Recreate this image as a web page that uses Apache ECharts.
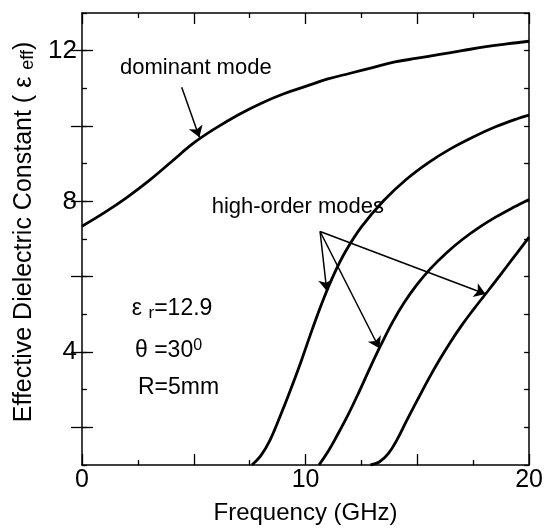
<!DOCTYPE html>
<html>
<head>
<meta charset="utf-8">
<script src="https://cdn.jsdelivr.net/npm/echarts@6/dist/echarts.min.js"></script>
<style>html,body{margin:0;padding:0;background:#fff}#c{width:546px;height:530px}</style>
</head>
<body>
<div id="c"></div>
<script>
// Frequency (GHz) and effective dielectric constant
const dominantF = [0,1,2,3,4,5,6,7,8,9,10,11,12,13,14,15,16,17,18,19,20];
const dominantV = [7.34,7.7,8.1,8.55,9.05,9.55,9.95,10.3,10.6,10.85,11.05,11.25,11.4,11.55,11.7,11.8,11.9,12.0,12.1,12.18,12.25];
const mode1F = [7.6,8.0,8.4,8.84,9.3,9.8,10.3,10.8,11.3,11.8,12.5,13.5,14.5,15.5,16.5,17.5,18.5,19.5,20];
const mode1V = [1.0,1.25,1.65,2.26,2.95,3.75,4.6,5.4,6.1,6.68,7.32,8.02,8.58,9.03,9.4,9.71,9.98,10.2,10.29];
const mode2F = [10.6,11.0,11.4,11.9,12.4,12.9,13.4,13.9,14.4,15.0,15.6,16.3,17.0,17.8,18.5,19.3,20];
const mode2V = [1.0,1.35,1.77,2.33,2.95,3.6,4.22,4.8,5.3,5.8,6.22,6.63,6.98,7.32,7.58,7.84,8.05];
const mode3F = [12.9,13.3,13.7,14.1,14.5,15,15.5,16,16.5,17,17.5,18,18.5,19,19.5,20];
const mode3V = [1.0,1.08,1.3,1.68,2.15,2.72,3.28,3.8,4.28,4.72,5.12,5.5,5.88,6.27,6.66,7.05];
const xLabels = [0,10,20];
const yLabels = [4,8,12];
const yMajorTicks = [2,4,6,8,10,12];

const FONT = "'Liberation Sans', Arial, Helvetica, sans-serif";
const zip = (a,b) => a.map((v,i)=>[v,b[i]]);
const chart = echarts.init(document.getElementById('c'));

const xBase = (pos, showLabel) => ({
  type:'value', position:pos, min:0, max:20, interval:5,
  axisLine:{show:true, onZero:false, lineStyle:{color:'#000', width:1.5}},
  axisTick:{show:true, inside:true, length:11, lineStyle:{color:'#000', width:1.3}},
  minorTick:{show:true, splitNumber:2, length:5, lineStyle:{color:'#000', width:1.3}},
  splitLine:{show:false},
  axisLabel:{show:showLabel, margin:3, color:'#000', fontFamily:FONT, fontSize:25,
    formatter:(v)=> xLabels.includes(v) ? String(v) : ''},
});
const yShort = (pos) => ({
  type:'value', position:pos, min:1, max:13, interval:1,
  axisLine:{show:true, onZero:false, lineStyle:{color:'#000', width:1.5}},
  axisTick:{show:true, inside:true, length:5, lineStyle:{color:'#000', width:1.3}},
  splitLine:{show:false}, axisLabel:{show:false}
});
const yLong = (pos, showLabel) => ({
  type:'value', position:pos, min:1, max:13,
  axisLine:{show:false},
  axisTick:{show:true, inside:true, length:11, customValues:yMajorTicks, lineStyle:{color:'#000', width:1.3}},
  splitLine:{show:false},
  axisLabel:{show:showLabel, customValues:yLabels, margin:5, color:'#000', fontFamily:FONT, fontSize:26}
});

const xa = [xBase('bottom', true), xBase('top', false)];
xa[0].name = 'Frequency (GHz)';
xa[0].nameLocation = 'middle';
xa[0].nameGap = 36;
xa[0].nameTextStyle = {color:'#000', fontFamily:FONT, fontSize:24};

const ya = [yShort('left'), yLong('left', true), yShort('right'), yLong('right', false)];
ya[1].name = '{a|Effective Dielectric Constant ( ε }{s|eff}{a|)}';
ya[1].nameLocation = 'middle';
ya[1].nameGap = 44;
ya[1].nameTextStyle = {color:'#000', fontFamily:FONT, fontSize:25, padding:[0,0,0,14],
  rich:{a:{fontFamily:FONT, fontSize:25, color:'#000'}, s:{fontFamily:FONT, fontSize:18, color:'#000', verticalAlign:'bottom', padding:[8,0,0,0]}}};

const lineSeries = (data) => ({
  type:'line', data, smooth:0.4, symbol:'none', xAxisIndex:0, yAxisIndex:0,
  lineStyle:{color:'#000', width:2.8}, silent:true, z:3
});

const arrowSeries = {
  type:'line', data:[], xAxisIndex:0, yAxisIndex:0, silent:true,
  markLine:{
    silent:true, symbol:['none','arrow'], symbolSize:11, animation:false,
    label:{show:false},
    lineStyle:{color:'#000', width:1.5, type:'solid'},
    data:[
      [{coord:[4.46,11.03]},{coord:[5.25,9.7]}],
      [{coord:[10.65,7.2]},{coord:[10.95,5.62]}],
      [{coord:[10.65,7.2]},{coord:[13.3,4.1]}],
      [{coord:[10.65,7.2]},{coord:[18.05,5.54]}]
    ]
  }
};

chart.setOption({
  animation:false,
  grid:{left:82, right:16, top:13, bottom:62, containLabel:false},
  xAxis:xa, yAxis:ya,
  series:[
    lineSeries(zip(dominantF, dominantV)),
    lineSeries(zip(mode1F, mode1V)),
    lineSeries(zip(mode2F, mode2V)),
    lineSeries(zip(mode3F, mode3V)),
    arrowSeries
  ]
});

function px(f, v){ return chart.convertToPixel({xAxisIndex:0, yAxisIndex:0}, [f, v]); }
const txt = (f, v, text, size, rich) => {
  const p = px(f, v);
  return {type:'text', x:p[0], y:p[1], style:{text, fill:'#000', font:`${size}px ${FONT}`, verticalAlign:'middle', align:'left', rich}};
};
const richMain = {a:{fontSize:23, fontFamily:FONT, fill:'#000'}, sub:{fontSize:17, fontFamily:FONT, verticalAlign:'bottom', padding:[10,0,0,0]}, sup:{fontSize:16, fontFamily:FONT, verticalAlign:'top', padding:[0,0,10,0]}};
chart.setOption({graphic:[
  txt(1.7, 11.55, 'dominant mode', 22),
  txt(5.8, 7.85, 'high-order modes', 22),
  txt(2.23, 5.16, '{a|ε }{sub|r}{a|=12.9}', 23, richMain),
  txt(2.37, 4.03, '{a|θ =30}{sup|0}', 23, richMain),
  txt(2.5, 3.05, 'R=5mm', 23)
]});
</script>
</body>
</html>
